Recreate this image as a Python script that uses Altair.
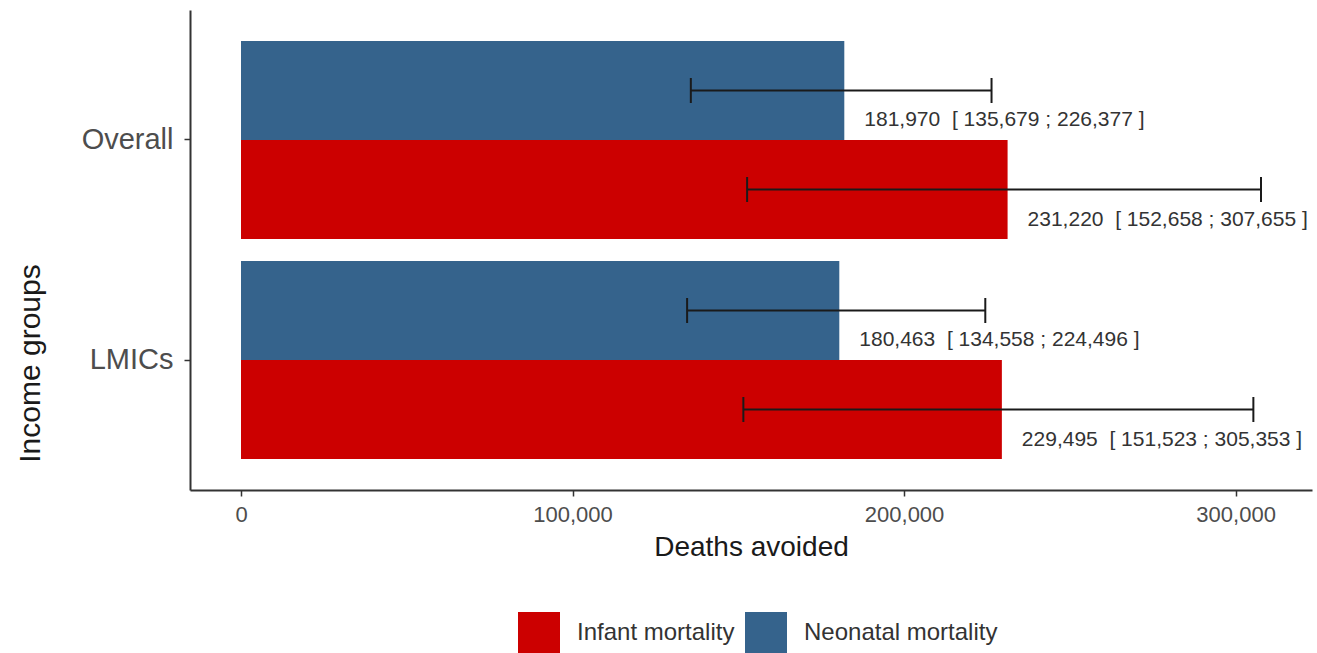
import altair as alt
import pandas as pd

# Deaths avoided by income group and outcome, with uncertainty interval
groups = ["Overall", "Overall", "LMICs", "LMICs"]
outcomes = ["Neonatal mortality", "Infant mortality", "Neonatal mortality", "Infant mortality"]
deaths = [181970, 231220, 180463, 229495]
lower = [135679, 152658, 134558, 151523]
upper = [226377, 307655, 224496, 305353]

group_order = ["Overall", "LMICs"]
dodge_order = ["Neonatal mortality", "Infant mortality"]
legend_order = ["Infant mortality", "Neonatal mortality"]
colors = ["#CC0000", "#35638C"]
x_ticks = [0, 100000, 200000, 300000]

df = pd.DataFrame({
    "group": groups,
    "outcome": outcomes,
    "deaths": deaths,
    "lower": lower,
    "upper": upper,
})
# non-breaking spaces keep the double gap before the interval in SVG text
df["label"] = [
    f"{v:,}\u00a0\u00a0[ {lo:,} ; {hi:,} ]" for v, lo, hi in zip(deaths, lower, upper)
]

FONT = "Liberation Sans, Arial, sans-serif"

x_scale = alt.Scale(domain=[-15383, 323038], nice=False, zero=False)

y_enc = alt.Y(
    "group:N",
    sort=group_order,
    title="Income groups",
    scale=alt.Scale(domain=group_order, paddingInner=0, paddingOuter=0.0909),
    axis=alt.Axis(
        labelFontSize=29,
        labelColor="#4d4d4d",
        labelFont=FONT,
        labelPadding=11,
        tickSize=6,
        tickColor="#333333",
        tickWidth=1.5,
        domainColor="#333333",
        domainWidth=2,
        grid=False,
        titleFont=FONT,
        titleFontSize=30,
        titleFontWeight="normal",
        titleColor="#1a1a1a",
        titleAngle=270,
        titleX=-160,
        titleY=353,
        titleAlign="center",
        titleBaseline="middle",
    ),
)

yoff_enc = alt.YOffset(
    "outcome:N",
    sort=dodge_order,
    scale=alt.Scale(domain=dodge_order, paddingInner=0, paddingOuter=0.111),
)

x_axis = alt.Axis(
    values=x_ticks,
    format=",d",
    labelFontSize=22,
    labelColor="#4d4d4d",
    labelFont=FONT,
    labelPadding=8,
    tickSize=6,
    tickColor="#333333",
    tickWidth=1.5,
    domainColor="#333333",
    domainWidth=2,
    grid=False,
    titleFont=FONT,
    titleFontSize=28,
    titleFontWeight="normal",
    titleColor="#1a1a1a",
    titlePadding=8,
)

base = alt.Chart(df)

bars = base.mark_bar().encode(
    x=alt.X("deaths:Q", scale=x_scale, axis=x_axis, title="Deaths avoided"),
    y=y_enc,
    yOffset=yoff_enc,
    color=alt.Color(
        "outcome:N",
        scale=alt.Scale(domain=legend_order, range=colors),
        legend=alt.Legend(
            title=None,
            orient="none",
            legendX=328,
            legendY=602,
            direction="horizontal",
            symbolType="square",
            symbolSize=1764,
            symbolStrokeWidth=0,
            symbolOpacity=1,
            labelFontSize=24,
            labelFont=FONT,
            labelColor="#333333",
            labelOffset=17,
            labelLimit=500,
            columnPadding=10,
        ),
    ),
)

err_line = base.mark_rule(color="#1a1a1a", strokeWidth=2).encode(
    x=alt.X("lower:Q", scale=x_scale),
    x2="upper:Q",
    y=y_enc,
    yOffset=yoff_enc,
)

cap_low = base.mark_tick(orient="vertical", size=25, thickness=2, color="#1a1a1a", opacity=1).encode(
    x=alt.X("lower:Q", scale=x_scale),
    y=y_enc,
    yOffset=yoff_enc,
)

cap_high = base.mark_tick(orient="vertical", size=25, thickness=2, color="#1a1a1a", opacity=1).encode(
    x=alt.X("upper:Q", scale=x_scale),
    y=y_enc,
    yOffset=yoff_enc,
)

labels = base.mark_text(
    align="left", baseline="middle", dx=20, dy=30, fontSize=21, font=FONT, color="#333333"
).encode(
    x=alt.X("deaths:Q", scale=x_scale),
    y=y_enc,
    yOffset=yoff_enc,
    text="label:N",
)

chart = (
    alt.layer(bars, err_line, cap_low, cap_high, labels)
    .properties(
        width=1122,
        height=480,
        autosize=alt.AutoSizeParams(type="none"),
        padding={"left": 190, "top": 10, "right": 5, "bottom": 163},
        background="white",
    )
    .configure_view(stroke=None)
)

chart.save("out.html", embed_options={"renderer": "svg", "actions": False})
